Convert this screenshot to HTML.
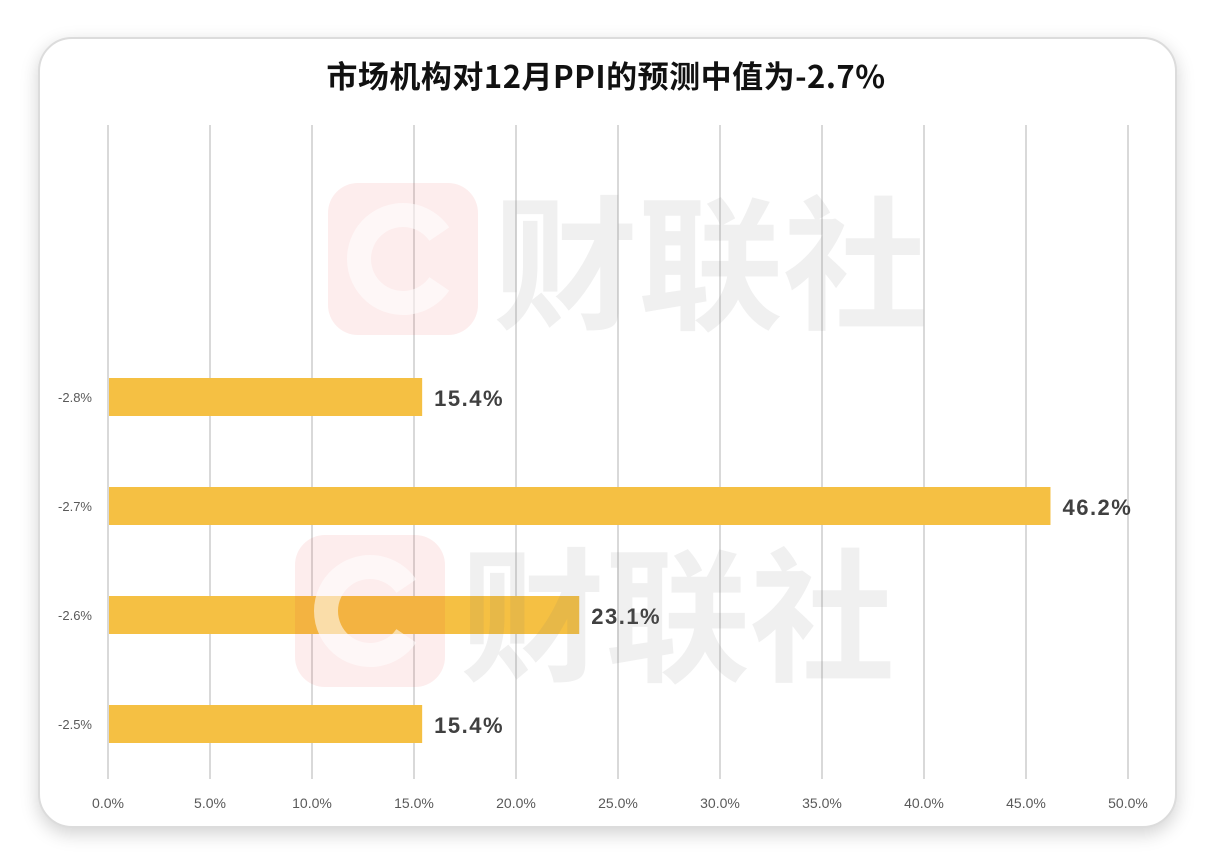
<!DOCTYPE html>
<html><head><meta charset="utf-8"><style>
html,body{margin:0;padding:0;background:#fff;}
body{width:1212px;height:866px;position:relative;overflow:hidden;font-family:"Liberation Sans","Noto Sans CJK SC",sans-serif;}
#card{position:absolute;left:38px;top:37px;width:1135px;height:787px;border:2px solid #dcdcdc;border-radius:34px;background:#fff;box-shadow:0 6px 18px rgba(0,0,0,0.18);}
#title{position:absolute;left:0;top:52px;width:1212px;text-align:center;font-size:31px;font-weight:bold;color:#111;letter-spacing:0.5px;font-family:"Noto Sans CJK SC","WenQuanYi Zen Hei",sans-serif;}
svg{position:absolute;left:0;top:0;}
</style></head><body>
<div id="card"></div>
<div id="title">市场机构对12月PPI的预测中值为-2.7%</div>
<svg id="chart" width="1212" height="866"></svg>
<script>
const categories=["-2.8%","-2.7%","-2.6%","-2.5%"];
const values=[15.4,46.2,23.1,15.4];
const valueLabels=["15.4%","46.2%","23.1%","15.4%"];
const ticks=[0,5,10,15,20,25,30,35,40,45,50];
const tickLabels=["0.0%","5.0%","10.0%","15.0%","20.0%","25.0%","30.0%","35.0%","40.0%","45.0%","50.0%"];
const NS="http://www.w3.org/2000/svg";
const svg=document.getElementById('chart');
const x0=108,x1=1128,yTop=125,yBot=779;
const xs=v=>x0+(v/50)*(x1-x0);
const band=109,firstC=397;
const yc=i=>firstC+i*band;
function mk(t,a){const e=document.createElementNS(NS,t);for(const k in a)e.setAttribute(k,a[k]);svg.appendChild(e);return e;}
ticks.forEach((t,i)=>{
 const g=mk('line',{x1:xs(t),x2:xs(t),y1:yTop,y2:yBot,stroke:'#d9d9d9','stroke-width':2});
 
 
 const l=mk('text',{x:xs(t),y:808,'text-anchor':'middle','font-size':14,fill:'#595959'});
 l.textContent=tickLabels[i];
 
 
});
categories.forEach((c,i)=>{
 const b=mk('rect',{x:xs(0)+1,y:yc(i)-19,width:xs(values[i])-xs(0)-1,height:38,fill:'#f5c043'});
 
 
 const cl=mk('text',{x:92,y:yc(i)+5,'text-anchor':'end','font-size':13,fill:'#595959'});
 cl.textContent=c;
 
 
 const vl=mk('text',{x:xs(values[i])+12,y:yc(i)+9,'font-size':22,'font-weight':'bold',fill:'#404040','letter-spacing':'1.5'});
 vl.textContent=valueLabels[i];
 
 
});
[[328,183],[295,535]].forEach(p=>{
 const r=mk('rect',{x:p[0],y:p[1],width:150,height:152,rx:30,fill:'rgba(230,60,60,0.09)'});
 
 
 const cx=p[0]+75,cy=p[1]+76,R=44;
 const a1=-0.6,a2=0.6;
 const d=`M ${cx+R*Math.cos(a1)} ${cy+R*Math.sin(a1)} A ${R} ${R} 0 1 0 ${cx+R*Math.cos(a2)} ${cy+R*Math.sin(a2)}`;
 const c=mk('path',{d:d,fill:'none',stroke:'rgba(255,255,255,0.55)','stroke-width':24});
 
 
 const t=mk('text',{x:p[0]+165,y:p[1]+135,'font-size':145,'font-weight':'bold',fill:'rgba(120,120,120,0.11)','font-family':'Noto Sans CJK SC,sans-serif'});
 t.textContent='财联社';
 
 
});
</script>
</body></html>
